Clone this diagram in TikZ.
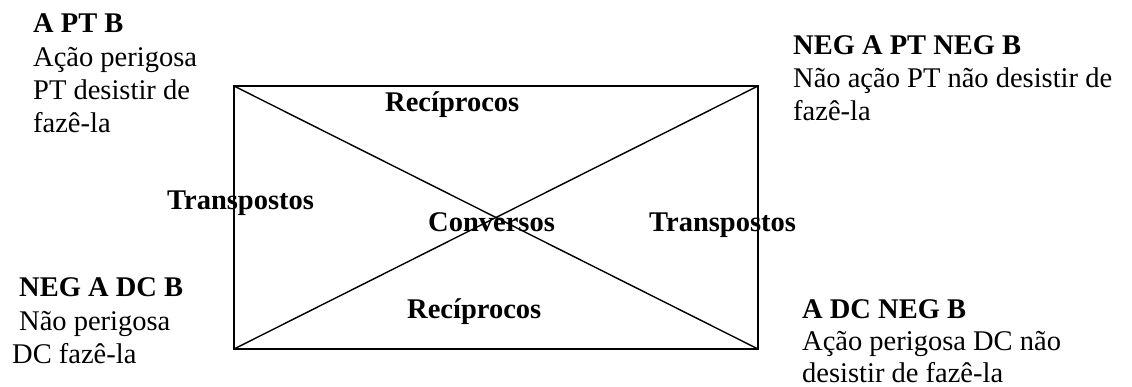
\documentclass[tikz,border=0pt]{standalone}
\usepackage{fontspec}
\setmainfont{Liberation Serif}
\begin{document}
\begin{tikzpicture}[x=1pt,y=-1pt,
  txt/.style={anchor=base west,inner sep=0pt,font=\fontsize{28.5}{33}\selectfont},
  bold/.style={txt,font=\fontsize{28.5}{33}\selectfont\bfseries},
  edge/.style={line width=1.4pt,line cap=rect}]
\useasboundingbox (0,0) rectangle (1132,387);
\coordinate (tl) at (234,86);
\coordinate (tr) at (758,86);
\coordinate (bl) at (234,349);
\coordinate (br) at (758,349);
\draw[edge] (tl) -- (tr) -- (br) -- (bl) -- cycle;
\draw[edge] (tl) -- (br);
\draw[edge] (bl) -- (tr);
% top left
\node[bold] (a1) at (33,33) {A PT B};
\node[txt] (a2) at (33,67) {Ação perigosa};
\node[txt] (a3) at (33,100) {PT desistir de};
\node[txt] (a4) at (33,133) {fazê-la};
% top right
\node[bold] (b1) at (793,55) {NEG A PT NEG B};
\node[txt] (b2) at (793,88) {Não ação PT não desistir de};
\node[txt] (b3) at (793,121) {fazê-la};
% bottom left
\node[bold] (c1) at (19,297) {NEG A DC B};
\node[txt] (c2) at (19,330) {Não perigosa};
\node[txt] (c3) at (12,363) {DC fazê-la};
% bottom right
\node[bold] (d1) at (802,318) {A DC NEG B};
\node[txt] (d2) at (802,350) {Ação perigosa DC não};
\node[txt] (d3) at (802,382) {desistir de fazê-la};
% relation labels
\node[bold] (r1) at (385,112) {Recíprocos};
\node[bold] (t1) at (167,210) {Transpostos};
\node[bold] (cv) at (428,232) {Conversos};
\node[bold] (t2) at (649,232) {Transpostos};
\node[bold] (r2) at (407,318) {Recíprocos};
\end{tikzpicture}
\end{document}
